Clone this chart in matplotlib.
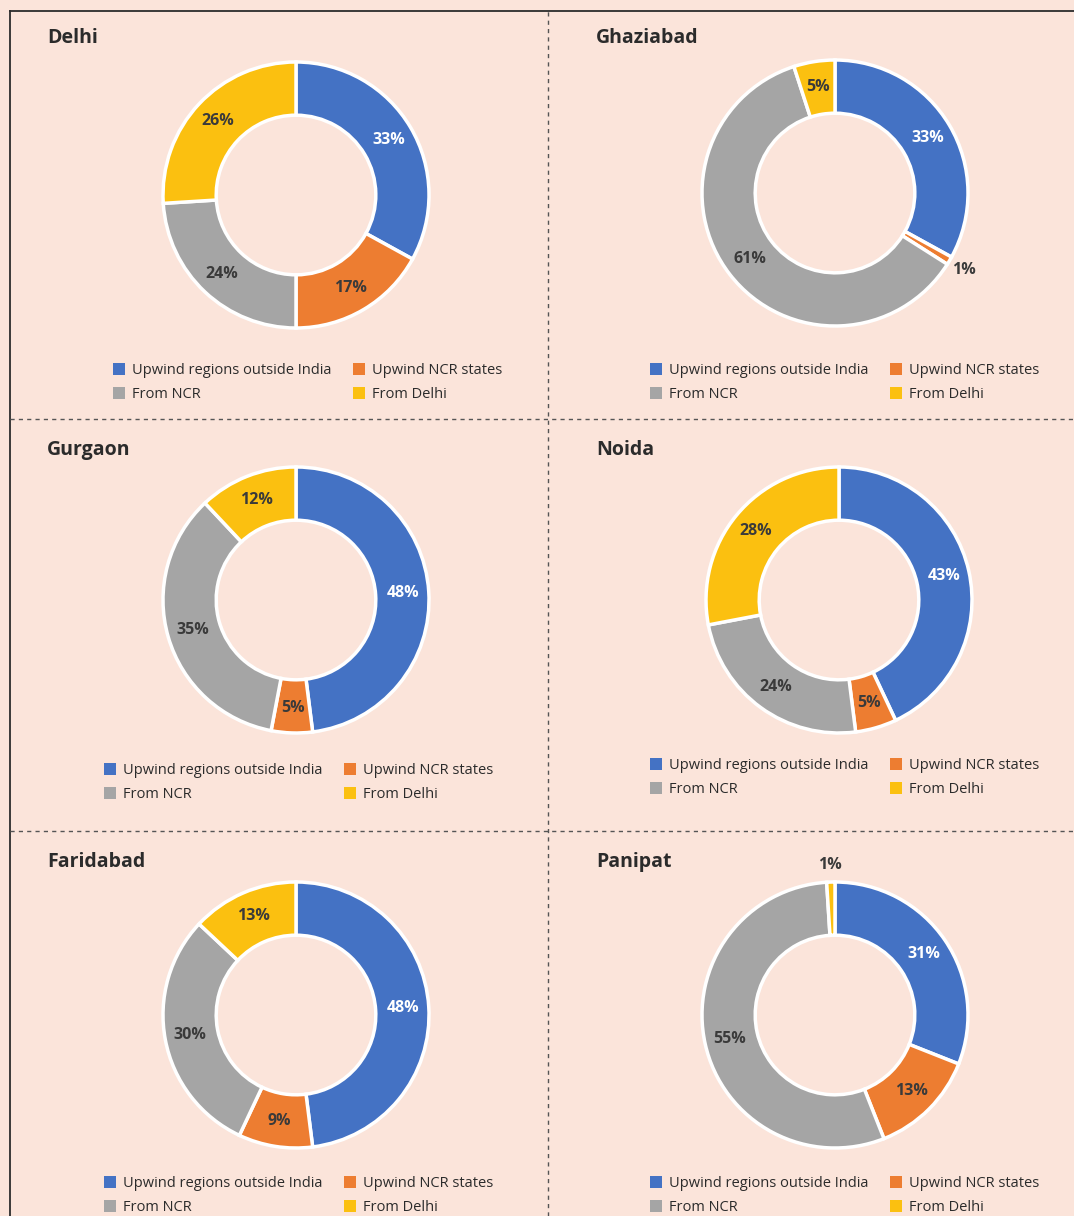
import matplotlib
matplotlib.use("Agg")
import matplotlib.pyplot as plt
from matplotlib.patches import Patch
from matplotlib.lines import Line2D
import numpy as np

plt.rcParams['font.family'] = ['Open Sans', 'DejaVu Sans']

# data
cities = ['Delhi', 'Ghaziabad', 'Gurgaon', 'Noida', 'Faridabad', 'Panipat']
sources = ['Upwind regions outside India', 'Upwind NCR states', 'From NCR', 'From Delhi']
delhi = [33, 17, 24, 26]
ghaziabad = [33, 1, 61, 5]
gurgaon = [48, 5, 35, 12]
noida = [43, 5, 24, 28]
faridabad = [48, 9, 30, 13]
panipat = [31, 13, 55, 1]
shares = [delhi, ghaziabad, gurgaon, noida, faridabad, panipat]

colors = ['#4472C4', '#ED7D31', '#A5A5A5', '#FBC010']
label_colors = ['white', '#3a3a3a', '#3a3a3a', '#3a3a3a']
bg = '#FBE4DA'
dark = '#2b2b2b'

W, H = 1074, 1216
fig = plt.figure(figsize=(W / 100, H / 100), dpi=100, facecolor=bg)

# layout in pixels
centers = [(296, 195), (835, 193), (296, 600), (839, 600), (296, 1015), (835, 1015)]
title_pos = [(47, 38), (596, 38), (47, 450), (596, 450), (47, 862), (596, 862)]
legend_pos = [(113, 363), (650, 363), (104, 763), (650, 758), (104, 1176), (650, 1176)]
R = 133
half = R * 1.3

# legend fills column-wise, so reorder to get rows as in the original
order = [0, 2, 1, 3]

for i, city in enumerate(cities):
    cx, cy = centers[i]
    ax = fig.add_axes([(cx - half) / W, (H - cy - half) / H, 2 * half / W, 2 * half / H])
    wedges, _ = ax.pie(shares[i], colors=colors, startangle=90, counterclock=False,
                       radius=1, wedgeprops=dict(width=0.4, edgecolor='white', linewidth=2.5))
    ax.set_xlim(-1.3, 1.3)
    ax.set_ylim(-1.3, 1.3)
    ax.axis('off')
    for j, w in enumerate(wedges):
        ang = np.deg2rad((w.theta1 + w.theta2) / 2)
        v = shares[i][j]
        if v <= 1:
            r, c = 1.13, label_colors[2]
        else:
            r, c = 0.81, label_colors[j]
        ax.text(r * np.cos(ang), r * np.sin(ang), f'{v}%', ha='center', va='center',
                fontsize=11.5, fontweight='bold', color=c)

    tx, ty = title_pos[i]
    fig.text(tx / W, 1 - ty / H, city, fontsize=14, fontweight='bold', color=dark,
             ha='left', va='center')

    lx, ly = legend_pos[i]
    handles = [Patch(facecolor=colors[k], edgecolor='none') for k in order]
    labels = [sources[k] for k in order]
    fig.legend(handles, labels, ncol=2, loc='upper left',
               bbox_to_anchor=(lx / W, 1 - ly / H), frameon=False, fontsize=10.5,
               handlelength=0.85, handleheight=0.85, handletextpad=0.45,
               columnspacing=1.45, labelspacing=0.6, borderpad=0, borderaxespad=0,
               labelcolor=dark)

# frame lines
fig.add_artist(Line2D([10 / W, 10 / W], [0, 1 - 11 / H], color=dark, lw=1.3))
fig.add_artist(Line2D([10 / W, 1], [1 - 11 / H, 1 - 11 / H], color=dark, lw=1.3))
fig.add_artist(Line2D([548 / W, 548 / W], [0, 1 - 11 / H], color='#555555', lw=1, ls=(0, (3, 3))))
for yy in [419, 831]:
    fig.add_artist(Line2D([10 / W, 1], [1 - yy / H, 1 - yy / H], color='#555555', lw=1, ls=(0, (3, 3))))

fig.savefig('out.png', dpi=100, facecolor=bg)
